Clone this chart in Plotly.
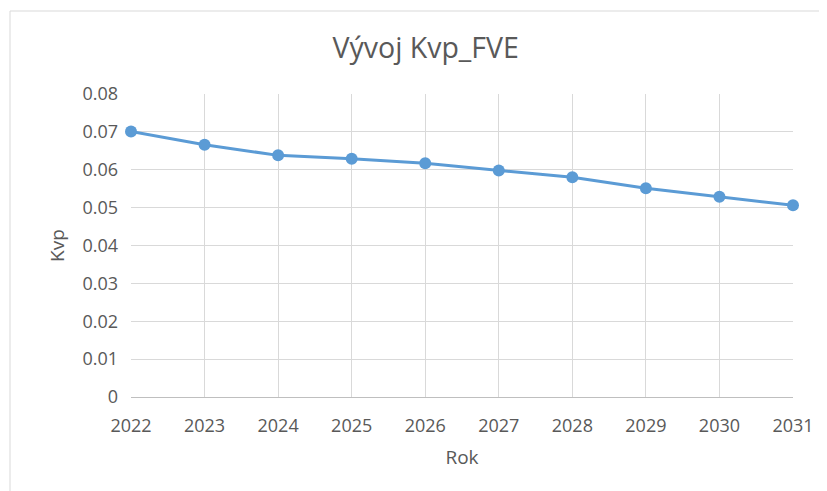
import plotly.graph_objects as go

years = [2022, 2023, 2024, 2025, 2026, 2027, 2028, 2029, 2030, 2031]
kvp = [0.0701, 0.0666, 0.0638, 0.0629, 0.0617, 0.0598, 0.0580, 0.0551, 0.0529, 0.0506]
y_ticks = [0, 0.01, 0.02, 0.03, 0.04, 0.05, 0.06, 0.07, 0.08]
y_tick_labels = ["0", "0.01", "0.02", "0.03", "0.04", "0.05", "0.06", "0.07", "0.08"]

font = "Open Sans"
gray = "#595959"

fig = go.Figure()
fig.add_trace(go.Scatter(
    x=years, y=kvp, mode="lines+markers",
    line=dict(color="#5B9BD5", width=3),
    marker=dict(color="#5B9BD5", size=12),
    cliponaxis=False,
    showlegend=False,
))

fig.update_layout(
    width=819, height=483,
    margin=dict(l=123, r=34, t=86, b=94, autoexpand=False),
    paper_bgcolor="white", plot_bgcolor="white",
    title=dict(text="Vývoj Kvp_FVE", x=0.51, xanchor="center", y=0.917, yanchor="middle",
               font=dict(family=font, size=28.5, color=gray)),
    font=dict(family=font, color=gray),
    xaxis=dict(
        range=[2022, 2031], tickmode="array", tickvals=years,
        ticktext=[str(y) for y in years],
        showgrid=True, gridcolor="#D9D9D9", gridwidth=1,
        showline=True, linecolor="#BFBFBF", linewidth=1,
        zeroline=False, ticks="", ticklabelstandoff=12, automargin=False,
        tickfont=dict(family=font, size=18, color=gray),
        title=dict(text="Rok", font=dict(family=font, size=19, color=gray), standoff=15),
    ),
    yaxis=dict(
        range=[0, 0.08], tickmode="array", tickvals=y_ticks, ticktext=y_tick_labels,
        showgrid=True, gridcolor="#D9D9D9", gridwidth=1,
        showline=False, zeroline=False, ticks="", ticklabelstandoff=12, automargin=False,
        tickfont=dict(family=font, size=18, color=gray),
        title=dict(text="Kvp", font=dict(family=font, size=19, color=gray), standoff=12),
    ),
    shapes=[dict(type="rect", xref="paper", yref="paper",
                 x0=(10 - 131) / 662, x1=(860 - 131) / 662,
                 y0=(397 - 520) / 303, y1=(397 - 11) / 303,
                 line=dict(color="#D9D9D9", width=1), layer="below")],
)

fig.write_html("out.html")
